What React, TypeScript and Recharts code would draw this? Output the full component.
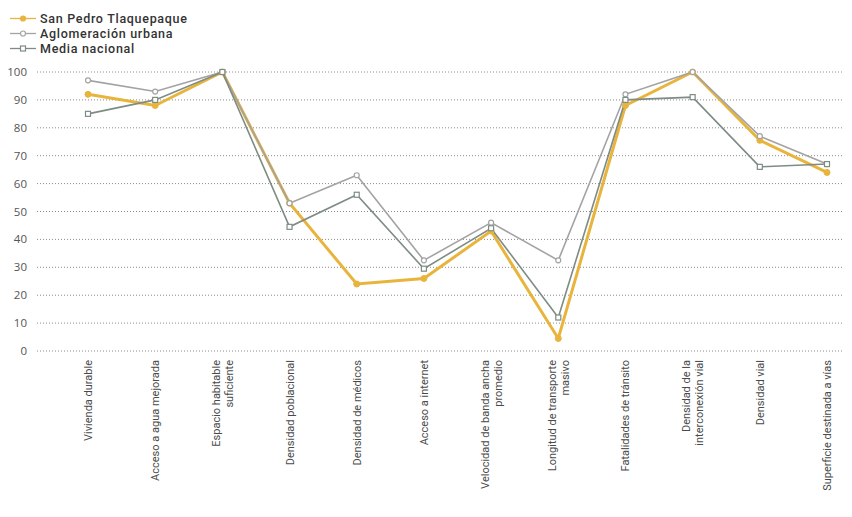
import { LineChart, Line, XAxis, YAxis, CartesianGrid } from "recharts";

const categories = [
  "Vivienda durable",
  "Acceso a agua mejorada",
  "Espacio habitable\nsuficiente",
  "Densidad poblacional",
  "Densidad de médicos",
  "Acceso a internet",
  "Velocidad de banda ancha\npromedio",
  "Longitud de transporte\nmasivo",
  "Fatalidades de tránsito",
  "Densidad de la\ninterconexión vial",
  "Densidad vial",
  "Superficie destinada a vías",
];

const sanPedro = [92, 88, 100, 53, 24, 26, 43, 4.5, 88, 100, 75.5, 64];
const aglomeracion = [97, 93, 100, 53, 63, 32.5, 46, 32.5, 92, 100, 77, 67];
const mediaNacional = [85, 90, 100, 44.5, 56, 29.5, 44, 12, 90, 91, 66, 67];

const yTicks = [0, 10, 20, 30, 40, 50, 60, 70, 80, 90, 100];

const data = categories.map((name, i) => ({
  name,
  sanPedro: sanPedro[i],
  aglomeracion: aglomeracion[i],
  media: mediaNacional[i],
}));

const YELLOW = "#e8b43c";
const LIGHT = "#a3a3a3";
const DARK = "#7e8c84";

const CategoryTick = (props: any) => {
  const { x, y, payload } = props;
  const lines = String(payload.value).split("\n");
  const gap = 13;
  const start = -((lines.length - 1) * gap) / 2;
  return (
    <g>
      {lines.map((line, i) => {
        const lx = x + start + i * gap + 4;
        const ly = y + 1;
        return (
          <text
            key={i}
            x={lx}
            y={ly}
            transform={`rotate(-90, ${lx}, ${ly})`}
            textAnchor="end"
            fontSize={11}
            fontFamily="Roboto, sans-serif"
            fill="#4a4a4a"
          >
            {line}
          </text>
        );
      })}
    </g>
  );
};

const SquareDot = (props: any) => {
  const { cx, cy } = props;
  if (cx == null || cy == null) return null;
  return (
    <rect
      x={cx - 2.5}
      y={cy - 2.5}
      width={5}
      height={5}
      fill="#fff"
      stroke={DARK}
      strokeWidth={1.2}
    />
  );
};

const legendItems = [
  { label: "San Pedro Tlaquepaque", color: YELLOW, kind: "filled" },
  { label: "Aglomeración urbana", color: LIGHT, kind: "circle" },
  { label: "Media nacional", color: DARK, kind: "square" },
];

export default function App() {
  return (
    <div style={{ position: "relative", width: 844, height: 509 }}>
      <div
        style={{
          position: "absolute",
          left: 2,
          top: 2.5,
          fontFamily: "Roboto, sans-serif",
          fontSize: 12.5,
          fontWeight: 500,
          letterSpacing: 0.7,
          color: "#333",
          lineHeight: "15px",
        }}
      >
        {legendItems.map((it) => (
          <div key={it.label} style={{ display: "flex", alignItems: "center", height: 15 }}>
            <svg width={30} height={15}>
              <line x1={0} y1={7.5} x2={26} y2={7.5} stroke={it.color} strokeWidth={1.3} />
              {it.kind === "square" ? (
                <rect x={10.5} y={5} width={5} height={5} fill="#fff" stroke={it.color} strokeWidth={1.2} />
              ) : (
                <circle
                  cx={13}
                  cy={7.5}
                  r={2.5}
                  fill={it.kind === "filled" ? it.color : "#fff"}
                  stroke={it.color}
                  strokeWidth={1.2}
                />
              )}
            </svg>
            <span>{it.label}</span>
          </div>
        ))}
      </div>
      <LineChart
        width={844}
        height={509}
        data={data}
        margin={{ top: 64, right: 7, bottom: 0, left: 0 }}
      >
        <CartesianGrid
          vertical={false}
          stroke="#8a8a8a"
          strokeDasharray="1 2"
          horizontalValues={yTicks}
        />
        <XAxis
          dataKey="name"
          interval={0}
          height={166}
          axisLine={false}
          tickLine={false}
          padding={{ left: 51, right: 18 }}
          tick={<CategoryTick />}
        />
        <YAxis
          domain={[0, 100]}
          ticks={yTicks}
          width={29}
          axisLine={false}
          tickLine={false}
          tickMargin={4}
          tick={{ fontSize: 11.5, fill: "#555", fontFamily: "'Open Sans', sans-serif" }}
        />
        <Line
          dataKey="sanPedro"
          stroke={YELLOW}
          strokeWidth={3}
          dot={{ r: 3, fill: YELLOW, stroke: YELLOW, strokeWidth: 1 }}
          isAnimationActive={false}
        />
        <Line
          dataKey="aglomeracion"
          stroke={LIGHT}
          strokeWidth={1.6}
          dot={{ r: 2.5, fill: "#fff", stroke: LIGHT, strokeWidth: 1.2 }}
          isAnimationActive={false}
        />
        <Line
          dataKey="media"
          stroke={DARK}
          strokeWidth={1.6}
          dot={<SquareDot />}
          isAnimationActive={false}
        />
      </LineChart>
    </div>
  );
}
